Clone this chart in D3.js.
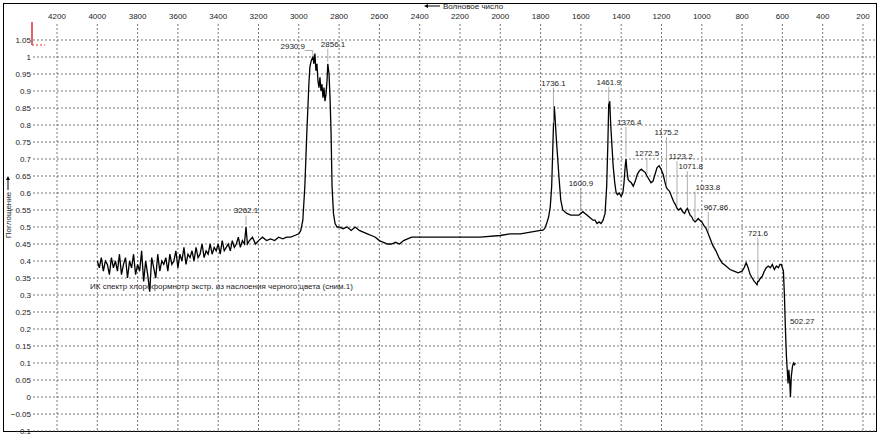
<!DOCTYPE html><html><head><meta charset="utf-8"><script src="https://cdn.jsdelivr.net/npm/d3@7"></script>
<style>body{margin:0;background:#fff}text{font-family:"Liberation Sans",Arial,sans-serif;font-size:8px;fill:#222}</style></head><body><svg id="c" width="881" height="436"></svg><script>
const xTicks=[4200,4000,3800,3600,3400,3200,3000,2800,2600,2400,2200,2000,1800,1600,1400,1200,1000,800,600,400,200];
const yTicks=[1.05,1,0.95,0.9,0.85,0.8,0.75,0.7,0.65,0.6,0.55,0.5,0.45,0.4,0.35,0.3,0.25,0.2,0.15,0.1,0.05,0,-0.05,-0.1];
const wn=[4000,3990,3980,3970,3960,3950,3940,3930,3920,3910,3900,3890,3880,3870,3860,3850,3840,3830,3820,3810,3800,3790,3780,3770,3760,3750,3740,3730,3720,3710,3700,3690,3680,3670,3660,3650,3640,3630,3620,3610,3600,3590,3580,3570,3560,3550,3540,3530,3520,3510,3500,3490,3480,3470,3460,3450,3440,3430,3420,3410,3400,3390,3380,3370,3360,3350,3340,3330,3320,3310,3300,3290,3280,3270,3262,3255,3245,3230,3215,3200,3180,3160,3140,3120,3100,3080,3060,3040,3020,3000,2990,2980,2970,2960,2950,2945,2938,2930,2925,2920,2915,2910,2905,2900,2895,2890,2885,2880,2875,2870,2865,2860,2856,2850,2845,2840,2835,2828,2820,2810,2800,2780,2760,2740,2720,2700,2680,2660,2640,2620,2600,2580,2560,2540,2520,2500,2480,2460,2440,2400,2300,2200,2100,2000,1950,1900,1850,1800,1790,1780,1770,1760,1752,1745,1740,1736,1732,1728,1722,1715,1708,1700,1690,1670,1650,1630,1610,1600,1590,1580,1570,1560,1550,1540,1530,1520,1510,1500,1490,1480,1472,1466,1462,1457,1452,1446,1440,1432,1425,1418,1410,1400,1392,1386,1380,1376,1372,1366,1360,1350,1340,1330,1320,1310,1300,1290,1280,1272,1262,1252,1242,1232,1222,1212,1202,1192,1182,1175,1168,1160,1150,1140,1130,1123,1115,1105,1095,1085,1078,1071,1065,1058,1050,1042,1033,1025,1018,1010,1000,990,978,968,958,945,930,915,900,880,860,840,820,800,790,780,770,760,750,740,732,726,722,718,714,708,700,690,680,670,660,650,640,630,620,612,606,600,595,590,585,580,576,572,568,564,560,556,550,545,540,536,532,528,524,520,515,510,505,500];
const ab=[0.40,0.38,0.41,0.37,0.40,0.39,0.36,0.41,0.38,0.40,0.37,0.42,0.36,0.39,0.41,0.35,0.40,0.38,0.42,0.36,0.39,0.37,0.43,0.34,0.40,0.36,0.31,0.41,0.38,0.35,0.42,0.37,0.40,0.39,0.41,0.37,0.42,0.39,0.40,0.43,0.38,0.42,0.40,0.44,0.39,0.42,0.41,0.43,0.40,0.44,0.41,0.42,0.45,0.41,0.43,0.42,0.45,0.42,0.44,0.43,0.45,0.42,0.46,0.43,0.44,0.45,0.43,0.46,0.44,0.45,0.47,0.44,0.46,0.45,0.50,0.45,0.46,0.47,0.45,0.46,0.47,0.46,0.465,0.46,0.47,0.465,0.47,0.47,0.475,0.48,0.49,0.52,0.62,0.78,0.92,0.97,0.99,1.00,0.98,1.01,0.96,0.98,0.93,0.91,0.94,0.90,0.92,0.88,0.91,0.87,0.89,0.93,0.98,0.95,0.88,0.78,0.62,0.54,0.51,0.50,0.50,0.495,0.50,0.49,0.50,0.49,0.485,0.48,0.475,0.47,0.46,0.455,0.45,0.45,0.455,0.45,0.46,0.465,0.47,0.47,0.47,0.47,0.47,0.475,0.48,0.48,0.485,0.49,0.49,0.495,0.51,0.53,0.56,0.62,0.72,0.80,0.855,0.82,0.76,0.70,0.64,0.58,0.55,0.54,0.535,0.535,0.535,0.54,0.545,0.54,0.535,0.53,0.525,0.52,0.52,0.51,0.515,0.51,0.52,0.54,0.62,0.75,0.86,0.87,0.80,0.74,0.68,0.63,0.60,0.595,0.60,0.59,0.60,0.63,0.68,0.70,0.67,0.64,0.635,0.63,0.62,0.635,0.655,0.665,0.67,0.665,0.66,0.65,0.64,0.63,0.635,0.655,0.675,0.68,0.67,0.655,0.63,0.615,0.61,0.605,0.59,0.575,0.565,0.555,0.55,0.555,0.545,0.54,0.55,0.555,0.545,0.535,0.53,0.52,0.515,0.52,0.525,0.52,0.515,0.505,0.495,0.48,0.465,0.445,0.43,0.41,0.395,0.385,0.375,0.37,0.365,0.37,0.38,0.395,0.38,0.36,0.35,0.34,0.335,0.33,0.34,0.34,0.345,0.35,0.355,0.37,0.38,0.385,0.38,0.39,0.375,0.385,0.38,0.39,0.39,0.38,0.37,0.30,0.20,0.12,0.08,0.04,0.08,0.05,0.00,0.06,0.09,0.10,0.095,0.10];
const annW=[2930.9,2856.1,3262.1,1736.1,1600.9,1461.9,1376.4,1272.5,1175.2,1123.2,1071.8,1033.8,967.86,721.6,502.27];
const annTxt=["2930.9","2856.1","3262.1","1736.1","1600.9","1461.9","1376.4","1272.5","1175.2","1123.2","1071.8","1033.8","967.86","721.6","502.27"];
const annTxtW=[3030,2830,3262,1736,1600,1462,1360,1272,1175,1105,1055,970,930,721,502];
const annTxtV=[1.025,1.03,0.54,0.915,0.62,0.918,0.80,0.71,0.77,0.70,0.67,0.61,0.55,0.475,0.215];
const caption="ИК спектр  хлороформнотр экстр. из наслоения черного цвета (сним.1)";
const svg=d3.select("#c");
const x=d3.scaleLinear().domain([4200,200]).range([57,863]);
const y=d3.scaleLinear().domain([0,1]).range([397,57]);
svg.append("rect").attr("x",3.5).attr("y",3.5).attr("width",873).attr("height",428).attr("fill","none").attr("stroke","#000");
const g=svg.append("g");
xTicks.forEach(t=>{g.append("line").attr("x1",x(t)).attr("x2",x(t)).attr("y1",24).attr("y2",431).attr("stroke","#555").attr("stroke-width",0.8).attr("stroke-dasharray","2,2");
 g.append("text").attr("x",x(t)).attr("y",19).attr("text-anchor","middle").text(t);});
yTicks.forEach(t=>{g.append("line").attr("x1",33).attr("x2",876).attr("y1",y(t)).attr("y2",y(t)).attr("stroke","#555").attr("stroke-width",0.8).attr("stroke-dasharray","2,2");
 g.append("text").attr("x",31).attr("y",y(t)+3).attr("text-anchor","end").text(d3.format("~g")(t));});
svg.append("line").attr("x1",32).attr("x2",32).attr("y1",22).attr("y2",45).attr("stroke","#e03030").attr("stroke-width",1.5);
svg.append("line").attr("x1",32).attr("x2",45).attr("y1",45).attr("y2",45).attr("stroke","#e03030").attr("stroke-dasharray","2,2");
svg.append("text").attr("x",443).attr("y",9).attr("text-anchor","start").text("Волновое число");
svg.append("line").attr("x1",426).attr("x2",440).attr("y1",6).attr("y2",6).attr("stroke","#000");
svg.append("path").attr("d","M424,6l4,-2v4z").attr("fill","#000");
svg.append("text").attr("transform","translate(11,215) rotate(-90)").attr("text-anchor","middle").text("Поглощение");
svg.append("line").attr("x1",8).attr("x2",8).attr("y1",178).attr("y2",190).attr("stroke","#000");
svg.append("path").attr("d","M8,176l-2,4h4z").attr("fill","#000");
const pts=wn.map((w,i)=>[w,ab[i]]);
svg.append("path").datum(pts).attr("d",d3.line().x(d=>x(d[0])).y(d=>y(d[1]))).attr("fill","none").attr("stroke","#000").attr("stroke-width",1.3);
annW.forEach((w,i)=>{const i0=d3.minIndex(wn,v=>Math.abs(v-w));const py=y(ab[i0]);const tx=x(annTxtW[i]),ty=y(annTxtV[i]);
 const p=d3.path();p.moveTo(x(w),py-2);p.lineTo(x(w),ty+2);if(Math.abs(tx-x(w))>14){p.lineTo(tx+(tx<x(w)?12:-12),ty+2);}
 svg.append("path").attr("d",p.toString()).attr("fill","none").attr("stroke","#999").attr("stroke-width",0.8);
 svg.append("text").attr("x",tx).attr("y",ty).attr("text-anchor","middle").text(annTxt[i]);});
svg.append("text").attr("x",90).attr("y",289).text(caption);
</script></body></html>
